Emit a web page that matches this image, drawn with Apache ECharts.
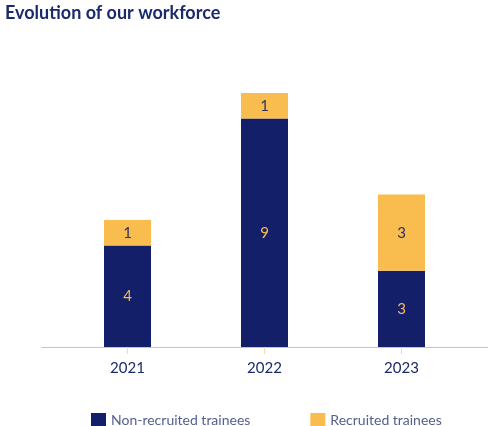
<!DOCTYPE html>
<html><head><meta charset="utf-8">
<script src="https://cdn.jsdelivr.net/npm/echarts@6/dist/echarts.min.js"></script>
<style>html,body{margin:0;padding:0;background:#fff}#c{width:488px;height:426px}</style>
</head><body><div id="c"></div>
<script>
const categories = ['2021', '2022', '2023'];
const nonRecruited = [4, 9, 3];
const recruited = [1, 1, 3];
const seriesNames = ['Non-recruited trainees', 'Recruited trainees'];

const NAVY = '#131f69';
const YELLOW = '#f9bc4f';
const chart = echarts.init(document.getElementById('c'));
chart.setOption({
  animation: false,
  title: {
    text: 'Evolution of our workforce', left: 0, top: -1,
    textStyle: { fontFamily: 'Lato', fontWeight: 'bold', fontSize: 18, color: '#1b2a6b' }
  },
  legend: {
    left: 86, top: 408, itemWidth: 15, itemHeight: 15, itemGap: 60,
    icon: 'rect',
    textStyle: { fontFamily: 'Lato', fontSize: 14, color: '#55608f' },
    data: seriesNames
  },
  grid: [
    { left: 59, right: 18, top: 93, bottom: 79 },
    { left: 42, right: 0, top: 93, bottom: 79 }
  ],
  xAxis: [
    {
      type: 'category', data: categories, gridIndex: 0,
      axisLine: { show: false },
      axisTick: { show: true, alignWithLabel: true, length: 7, lineStyle: { color: '#f5d9a6' } },
      axisLabel: { fontFamily: 'Lato', fontSize: 15, color: '#1b2a6b', margin: 14 }
    },
    {
      type: 'category', data: categories, gridIndex: 1,
      axisLine: { show: true, onZero: false, lineStyle: { color: '#f2c066', width: 1 } },
      axisTick: { show: false }, axisLabel: { show: false }, splitLine: { show: false }
    }
  ],
  yAxis: [
    { type: 'value', min: 0, max: 10, gridIndex: 0, show: false, splitLine: { show: false } },
    { type: 'value', min: 0, max: 10, gridIndex: 1, show: false, splitLine: { show: false } }
  ],
  series: [
    {
      name: seriesNames[0], type: 'bar', stack: 's', data: nonRecruited, barWidth: 47,
      itemStyle: { color: NAVY },
      label: { show: true, position: 'inside', fontFamily: 'Lato', fontSize: 15, color: YELLOW }
    },
    {
      name: seriesNames[1], type: 'bar', stack: 's', data: recruited, barWidth: 47,
      itemStyle: { color: YELLOW },
      label: { show: true, position: 'inside', fontFamily: 'Lato', fontSize: 15, color: '#2b3266' }
    }
  ]
});
</script></body></html>
